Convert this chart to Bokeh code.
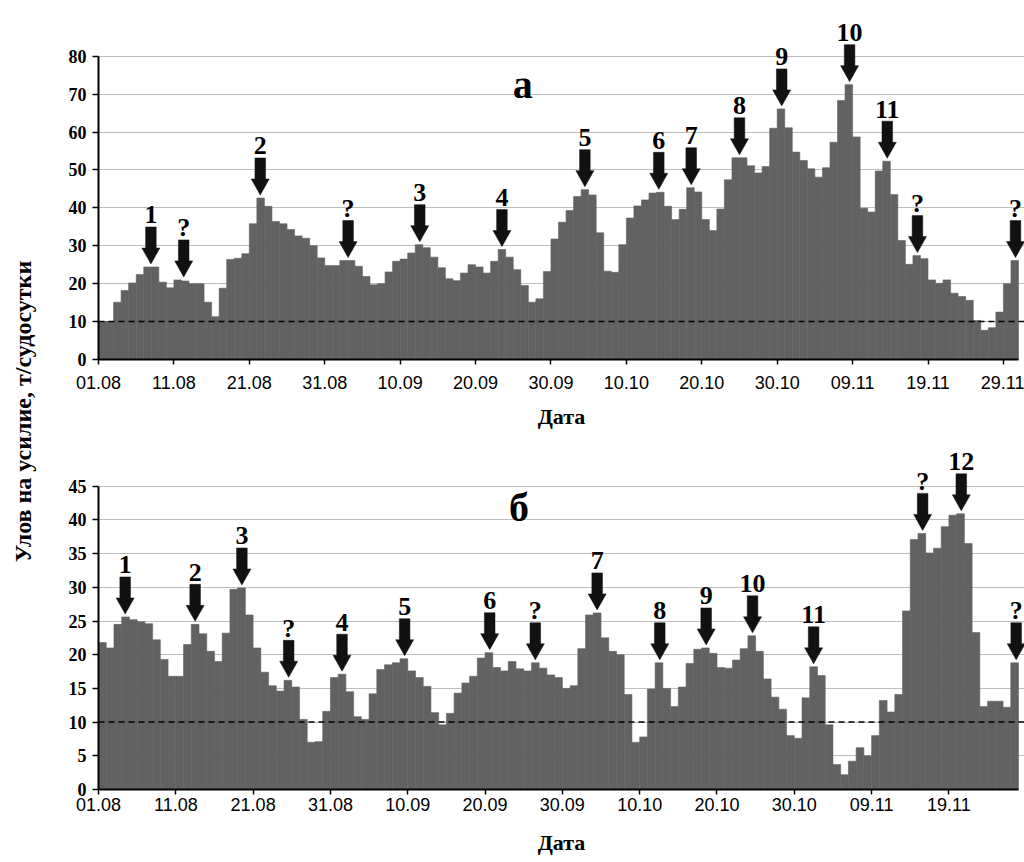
import math
from bokeh.plotting import figure
from bokeh.models import Range1d, FixedTicker, Span, Label, ColumnDataSource
from bokeh.layouts import row, column
from bokeh.embed import file_html
from bokeh.resources import INLINE
from bokeh.core.properties import value

# ---------------- data ----------------
DATE_LABELS = ["01.08", "11.08", "21.08", "31.08", "10.09", "20.09", "30.09",
               "10.10", "20.10", "30.10", "09.11", "19.11", "29.11"]
THRESHOLD = 10
Y_TITLE = "Улов на усилие, т/судосутки"
X_TITLE = "Дата"

# panel "а": daily catch per effort, 01.08 - 30.11
cpue_a = [10.0, 10.0, 15.1, 18.2, 20.2, 22.4, 24.4, 24.4, 20.4, 18.9,
          21.0, 20.7, 20.0, 20.0, 15.1, 11.3, 18.8, 26.4, 26.7, 27.9,
          35.8, 42.6, 40.4, 36.4, 35.8, 34.3, 32.6, 32.0, 30.0, 26.8,
          24.8, 24.8, 26.1, 26.1, 24.6, 21.9, 19.7, 20.0, 23.1, 25.9,
          26.5, 28.1, 30.3, 29.5, 27.0, 24.2, 21.3, 20.8, 22.8, 25.0,
          24.4, 22.8, 25.9, 29.0, 27.0, 23.7, 19.5, 15.1, 16.0, 23.2,
          31.8, 36.2, 39.3, 43.0, 44.8, 43.4, 33.4, 23.3, 23.0, 30.3,
          37.3, 40.5, 42.1, 43.9, 44.1, 40.4, 36.9, 39.6, 45.3, 44.2,
          36.9, 34.0, 39.7, 47.4, 53.2, 53.2, 51.1, 49.2, 50.9, 61.0,
          66.1, 61.1, 54.7, 52.5, 50.3, 48.1, 50.6, 57.3, 68.3, 72.5,
          58.7, 39.9, 38.9, 49.7, 52.3, 43.5, 31.4, 25.1, 27.4, 26.6,
          21.0, 20.1, 21.0, 17.5, 16.6, 15.6, 10.3, 7.7, 8.4, 12.5,
          20.0, 26.1]

# panel "б": daily catch per effort, 01.08 - 27.11
cpue_b = [21.8, 21.0, 24.5, 25.6, 25.2, 24.9, 24.6, 22.2, 19.3, 16.8,
          16.8, 21.5, 24.5, 23.1, 20.5, 19.0, 23.2, 29.7, 29.9, 25.9,
          21.0, 17.4, 15.4, 14.6, 16.2, 15.2, 10.4, 7.0, 7.1, 11.6,
          16.6, 17.1, 14.5, 10.8, 10.4, 14.2, 17.8, 18.5, 18.8, 19.4,
          17.6, 16.6, 15.3, 11.4, 9.6, 11.3, 14.3, 15.8, 16.8, 19.5,
          20.3, 18.1, 17.6, 19.0, 17.9, 17.6, 18.8, 18.0, 17.0, 16.6,
          15.0, 15.4, 20.9, 25.9, 26.2, 22.5, 20.5, 20.0, 14.1, 7.0,
          7.8, 14.9, 18.8, 15.0, 12.3, 15.2, 18.7, 20.8, 21.0, 20.2,
          18.1, 18.0, 19.2, 20.9, 22.8, 20.5, 16.4, 13.7, 11.9, 8.0,
          7.6, 13.6, 18.2, 16.9, 9.6, 3.7, 2.2, 4.2, 6.2, 5.0,
          8.0, 13.2, 11.5, 14.1, 26.5, 37.1, 38.0, 35.1, 35.8, 39.0,
          40.7, 40.9, 36.5, 23.3, 12.3, 13.1, 13.1, 12.2, 18.8]

# arrow marks (position in days from 01.08) and their labels
arrows_a_x = [6.95, 11.3, 21.45, 33.1, 42.6, 53.5, 64.5, 74.3, 78.6, 85.0,
              90.6, 99.6, 104.6, 108.6, 121.6]
arrows_a_label = ["1", "?", "2", "?", "3", "4", "5", "6", "7", "8",
                  "9", "10", "11", "?", "?"]
arrows_b_x = [3.45, 12.5, 18.55, 24.6, 31.5, 39.6, 50.6, 56.5, 64.5, 72.6,
              78.6, 84.6, 92.5, 106.6, 111.6, 118.7]
arrows_b_label = ["1", "2", "3", "?", "4", "5", "6", "?", "7", "8",
                  "9", "10", "11", "?", "12", "?"]

# ---------------- style ----------------
BAR = "#626262"
INK = "#111111"
GRID = "#bdbdbd"
SERIF = "Liberation Serif"
SANS = "Liberation Sans"

STRIP_W = 48
FIG_W = 976
FRAME_W = 926      # frame width (px)
AXIS_W = 920       # px covered by the days
AXIS_H = 303.3     # px covered by 0..y_max

GAP = 3            # arrow tip above bar (px)
HW, SW = 9, 5.3    # half widths of head / shaft
HL, TOTAL = 16, 37 # head length, total arrow length
LABEL_GAP = 12


def panel(vals, y_max, y_step, n_ticks, arr_x, arr_lbl, letter, letter_x,
          letter_y, frame_h, border_bottom, lab_standoff, title_standoff):
    n = len(vals)
    ppx = AXIS_W / n
    ppy = AXIS_H / y_max
    p = figure(width=FIG_W, height=frame_h + border_bottom,
               x_range=Range1d(0, FRAME_W / ppx),
               y_range=Range1d(0, frame_h / ppy),
               output_backend="svg", toolbar_location=None,
               min_border_left=FIG_W - FRAME_W, min_border_right=0,
               min_border_top=0, min_border_bottom=border_bottom)
    p.outline_line_color = None
    p.background_fill_color = "white"
    p.border_fill_color = "white"

    yt = FixedTicker(ticks=list(range(0, y_max + 1, y_step)))
    xt = FixedTicker(ticks=[10 * i for i in range(n_ticks)])
    p.yaxis.ticker = yt
    p.ygrid.ticker = yt
    p.xaxis.ticker = xt
    p.xgrid.visible = False
    p.ygrid.grid_line_color = GRID
    p.ygrid.grid_line_width = 1

    p.xaxis.bounds = (0, n)
    p.yaxis.bounds = (0, y_max)
    p.xaxis.major_label_overrides = {10 * i: DATE_LABELS[i] for i in range(n_ticks)}

    for ax in (p.xaxis[0], p.yaxis[0]):
        ax.axis_line_color = "black"
        ax.axis_line_width = 2
        ax.major_tick_line_color = "black"
        ax.major_tick_line_width = 1.5
        ax.major_tick_in = 0
        ax.minor_tick_in = 0
        ax.minor_tick_out = 0
        ax.major_label_text_color = "black"
    p.xaxis.major_tick_out = 5
    p.yaxis.major_tick_out = 6
    p.xaxis.major_label_text_font = SANS
    p.xaxis.major_label_text_font_size = "18px"
    p.xaxis.major_label_text_font_style = "normal"
    p.xaxis.major_label_standoff = lab_standoff
    p.yaxis.major_label_text_font = SERIF
    p.yaxis.major_label_text_font_size = "18px"
    p.yaxis.major_label_text_font_style = "bold"
    p.yaxis.major_label_standoff = 6

    p.xaxis.axis_label = X_TITLE
    p.xaxis.axis_label_text_font = SERIF
    p.xaxis.axis_label_text_font_style = "bold"
    p.xaxis.axis_label_text_font_size = "22px"
    p.xaxis.axis_label_text_color = "black"
    p.xaxis.axis_label_standoff = title_standoff

    src = ColumnDataSource(dict(x=[i + 0.5 for i in range(n)], top=vals))
    p.vbar(x="x", top="top", bottom=0, width=1, source=src,
           fill_color=BAR, line_color=BAR, line_width=0.6)

    p.add_layout(Span(location=THRESHOLD, dimension="width", line_color="black",
                      line_dash="6 4", line_width=1.5))

    xs, ys, lx, ly = [], [], [], []
    for ax in arr_x:
        k0 = min(max(int(ax - 0.5), 0), n - 1)
        k1 = min(max(int(ax + 0.5), 0), n - 1)
        tip = max(vals[k0], vals[k1]) + GAP / ppy
        hw, sw = HW / ppx, SW / ppx
        hl, tot = HL / ppy, TOTAL / ppy
        xs.append([ax, ax + hw, ax + sw, ax + sw, ax - sw, ax - sw, ax - hw])
        ys.append([tip, tip + hl, tip + hl, tip + tot, tip + tot, tip + hl, tip + hl])
        lx.append(ax)
        ly.append(tip + (TOTAL + LABEL_GAP) / ppy)
    p.patches(xs, ys, fill_color=INK, line_color=INK, line_width=0.5)
    p.text(x=lx, y=ly, text=arr_lbl, text_font=value(SERIF),
           text_font_style="bold", text_font_size="26px", text_align="center",
           text_baseline="alphabetic", text_color="black")

    p.add_layout(Label(x=letter_x, y=letter_y, text=letter, text_font=SERIF,
                       text_font_style="bold", text_font_size="40px",
                       text_align="center", text_baseline="alphabetic",
                       text_color="black"))
    return p


p1 = panel(cpue_a, 80, 10, 13, arrows_a_x, arrows_a_label, "а", 56.25, 72.5,
           359, 81, 11, 12)
p2 = panel(cpue_b, 45, 5, 12, arrows_b_x, arrows_b_label, "б", 54.4, 41.8,
           349, 71, 3, 16)

TOTAL_H = p1.height + p2.height
strip = figure(width=STRIP_W, height=TOTAL_H, x_range=(0, 1), y_range=(0, 1),
               x_axis_type=None, y_axis_type=None, output_backend="svg",
               toolbar_location=None, min_border=0)
strip.outline_line_color = None
strip.add_layout(Label(x=22 / STRIP_W, y=1 - 411 / TOTAL_H, text=Y_TITLE,
                       angle=math.pi / 2, text_font=SERIF,
                       text_font_style="bold", text_font_size="24px",
                       text_align="center", text_baseline="middle",
                       text_color="black"))

layout = row(strip, column(p1, p2))
open("out.html", "w").write(file_html(layout, INLINE))
